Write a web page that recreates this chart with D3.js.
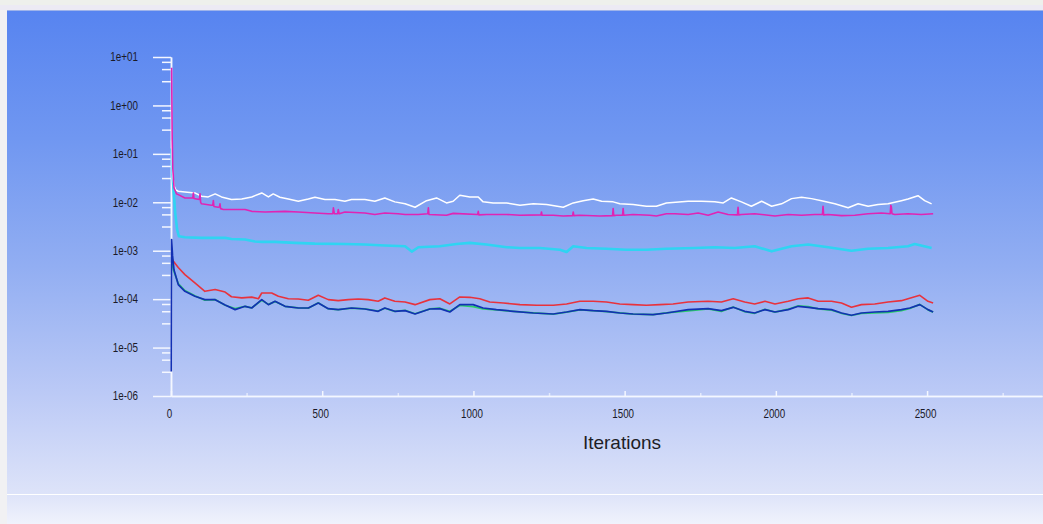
<!DOCTYPE html>
<html>
<head>
<meta charset="utf-8">
<script src="https://cdn.jsdelivr.net/npm/d3@7"></script>
<style>
  html, body { margin: 0; padding: 0; background: #f1f1f3; }
  svg { display: block; }
  text { font-family: "Liberation Sans", Arial, sans-serif; }
</style>
</head>
<body>
<svg id="chart" width="1043" height="524"></svg>
<script>
// Scaled residual history: [iteration, residual] pairs per equation
const continuity = [[2,0.19],[5,0.04],[10,0.022],[16,0.018],[24,0.0169],[46,0.0164],[79,0.0156],[101,0.0133],[123,0.0129],[146,0.0149],[167,0.0129],[200,0.0114],[234,0.0117],[267,0.0129],[300,0.0156],[322,0.0129],[338,0.0149],[360,0.0127],[388,0.0117],[421,0.0105],[454,0.0117],[476,0.0127],[509,0.0114],[542,0.0114],[575,0.0105],[597,0.0114],[641,0.0114],[674,0.0105],[707,0.0123],[740,0.0102],[774,0.0093],[807,0.0079],[845,0.0108],[878,0.0123],[911,0.0097],[933,0.0105],[955,0.0140],[988,0.0129],[1016,0.0129],[1032,0.0102],[1065,0.0097],[1110,0.0097],[1154,0.0087],[1198,0.0093],[1242,0.0090],[1297,0.0079],[1330,0.0097],[1363,0.0108],[1396,0.0117],[1424,0.0105],[1462,0.0102],[1484,0.0093],[1528,0.0090],[1572,0.0083],[1605,0.0083],[1638,0.0097],[1710,0.0105],[1754,0.0105],[1798,0.0102],[1826,0.0097],[1853,0.0123],[1886,0.0102],[1919,0.0083],[1953,0.0105],[1986,0.0083],[2019,0.0093],[2052,0.0119],[2085,0.0127],[2118,0.0119],[2151,0.0108],[2195,0.0093],[2239,0.0077],[2272,0.0093],[2305,0.0083],[2338,0.0090],[2371,0.0093],[2415,0.0108],[2437,0.0117],[2470,0.0137],[2492,0.0108],[2515,0.0093]];

const epsilon = [[2,6.0],[4,0.2],[6,0.05],[10,0.02],[18,0.0150],[24,0.0144],[46,0.0123],[72,0.0123],[74,0.0156],[76,0.0120],[94,0.0114],[96,0.0149],[98,0.0100],[101,0.0093],[134,0.0087],[138,0.0087],[140,0.0108],[142,0.0082],[156,0.0079],[160,0.0080],[162,0.0093],[164,0.0074],[173,0.0071],[200,0.0071],[245,0.0071],[267,0.0065],[311,0.0063],[377,0.0065],[421,0.0063],[476,0.0060],[520,0.0058],[535,0.0058],[537,0.0077],[540,0.0058],[551,0.0058],[553,0.0071],[556,0.0058],[575,0.0063],[641,0.0060],[674,0.0056],[707,0.0060],[751,0.0058],[774,0.0056],[818,0.0056],[849,0.0058],[851,0.0077],[853,0.0056],[911,0.0054],[933,0.0059],[1014,0.0056],[1016,0.0065],[1018,0.0055],[1043,0.0056],[1110,0.0056],[1154,0.0054],[1223,0.0055],[1225,0.0063],[1227,0.0054],[1264,0.0054],[1297,0.0052],[1328,0.0053],[1330,0.0063],[1332,0.0053],[1352,0.0054],[1418,0.0052],[1460,0.0053],[1462,0.0074],[1464,0.0053],[1473,0.0054],[1493,0.0054],[1495,0.0074],[1497,0.0054],[1528,0.0056],[1583,0.0054],[1605,0.0052],[1638,0.0058],[1666,0.0058],[1710,0.0056],[1743,0.0060],[1776,0.0054],[1809,0.0063],[1842,0.0056],[1873,0.0055],[1875,0.0079],[1877,0.0055],[1886,0.0056],[1930,0.0058],[1975,0.0054],[1997,0.0052],[2041,0.0056],[2085,0.0054],[2129,0.0056],[2154,0.0056],[2156,0.0083],[2158,0.0055],[2173,0.0056],[2217,0.0053],[2261,0.0054],[2305,0.0058],[2349,0.0060],[2378,0.0058],[2380,0.0087],[2382,0.0080],[2384,0.0058],[2393,0.0056],[2437,0.0058],[2481,0.0056],[2520,0.0058]];

const kResidual = [[2,0.13],[4,0.05],[8,0.02],[14,0.006],[20,0.0028],[26,0.00199],[46,0.0019],[101,0.00184],[179,0.00184],[200,0.00175],[245,0.00170],[278,0.00155],[300,0.00152],[344,0.00152],[410,0.00145],[476,0.00140],[575,0.00138],[641,0.00134],[707,0.00128],[774,0.00124],[796,0.00096],[818,0.00118],[889,0.00124],[944,0.00138],[988,0.00145],[1043,0.00134],[1110,0.00118],[1154,0.00114],[1220,0.00114],[1286,0.00105],[1308,0.00094],[1330,0.00124],[1374,0.00114],[1440,0.00110],[1506,0.00105],[1572,0.00105],[1638,0.00110],[1732,0.00114],[1798,0.00118],[1864,0.00114],[1930,0.00124],[1986,0.00097],[2052,0.00124],[2107,0.00134],[2173,0.00118],[2250,0.00100],[2305,0.00110],[2371,0.00114],[2437,0.00124],[2459,0.00138],[2515,0.00114]];

const xVelocity = [[3,6.8e-4],[8,6.05e-4],[24,4.5e-4],[46,3.21e-4],[79,2.16e-4],[112,1.45e-4],[146,1.58e-4],[179,1.40e-4],[200,1.12e-4],[234,1.06e-4],[267,1.10e-4],[289,1.02e-4],[300,1.34e-4],[333,1.34e-4],[355,1.15e-4],[388,1.02e-4],[421,1.01e-4],[454,9.46e-5],[487,1.20e-4],[520,9.77e-5],[553,9.31e-5],[586,9.77e-5],[619,1.01e-4],[652,9.77e-5],[685,9.02e-5],[707,1.06e-4],[740,9.02e-5],[774,8.73e-5],[807,7.70e-5],[856,9.77e-5],[889,1.02e-4],[922,7.95e-5],[955,1.11e-4],[988,1.09e-4],[1021,1.02e-4],[1054,8.73e-5],[1099,8.33e-5],[1154,7.70e-5],[1209,7.46e-5],[1264,7.46e-5],[1308,7.95e-5],[1352,9.02e-5],[1396,9.02e-5],[1440,8.73e-5],[1484,7.95e-5],[1528,7.70e-5],[1572,7.46e-5],[1616,7.70e-5],[1660,7.95e-5],[1710,8.73e-5],[1776,9.02e-5],[1820,8.73e-5],[1859,1.02e-4],[1897,8.73e-5],[1930,7.95e-5],[1964,9.02e-5],[1997,7.95e-5],[2041,9.02e-5],[2074,1.02e-4],[2107,1.06e-4],[2140,9.02e-5],[2184,9.02e-5],[2217,8.33e-5],[2250,6.78e-5],[2283,7.70e-5],[2327,7.95e-5],[2371,8.73e-5],[2415,9.31e-5],[2437,1.02e-4],[2476,1.20e-4],[2503,9.02e-5],[2520,8.33e-5]];

const yVelocity = [[3,5.5e-4],[8,4.0e-4],[24,2.1e-4],[46,1.5e-4],[79,1.18e-4],[112,9.5e-5],[146,9.8e-5],[179,7.5e-5],[212,6.4e-5],[245,7.1e-5],[267,6.6e-5],[300,9.5e-5],[322,7.8e-5],[344,8.9e-5],[377,7.1e-5],[421,6.6e-5],[454,6.5e-5],[487,8.4e-5],[520,6.3e-5],[553,6.1e-5],[597,6.5e-5],[641,6.3e-5],[685,5.7e-5],[707,6.5e-5],[740,5.6e-5],[774,5.9e-5],[807,5.0e-5],[856,6.3e-5],[889,6.5e-5],[922,5.6e-5],[955,7.4e-5],[999,7.0e-5],[1032,6.3e-5],[1076,6.0e-5],[1132,5.6e-5],[1198,5.2e-5],[1264,4.9e-5],[1308,5.4e-5],[1352,6.0e-5],[1396,5.8e-5],[1440,5.5e-5],[1484,5.2e-5],[1528,4.9e-5],[1594,4.8e-5],[1638,5.2e-5],[1710,5.7e-5],[1776,6.3e-5],[1820,5.6e-5],[1859,6.9e-5],[1897,5.5e-5],[1930,5.1e-5],[1964,6.2e-5],[1997,5.4e-5],[2041,6.2e-5],[2074,7.3e-5],[2107,7.0e-5],[2140,6.3e-5],[2184,5.9e-5],[2217,5.1e-5],[2250,4.6e-5],[2283,5.1e-5],[2327,5.2e-5],[2371,5.3e-5],[2415,5.8e-5],[2443,6.4e-5],[2476,7.8e-5],[2503,6.0e-5],[2520,5.4e-5]];

const zVelocity = [[1,3.2e-6],[2,1.7e-3],[5,8.0e-4],[10,4.0e-4],[24,2.0e-4],[46,1.45e-4],[79,1.15e-4],[112,9.77e-5],[146,9.77e-5],[179,7.6e-5],[212,6.07e-5],[245,7.11e-5],[267,6.56e-5],[300,9.77e-5],[322,7.70e-5],[344,9.02e-5],[377,7.11e-5],[421,6.56e-5],[454,6.56e-5],[487,8.33e-5],[520,6.36e-5],[553,6.07e-5],[597,6.56e-5],[641,6.26e-5],[685,5.61e-5],[707,6.56e-5],[740,5.61e-5],[774,5.78e-5],[807,4.94e-5],[856,6.26e-5],[889,6.36e-5],[922,5.43e-5],[955,7.70e-5],[999,7.70e-5],[1032,6.56e-5],[1076,6.07e-5],[1132,5.61e-5],[1198,5.18e-5],[1264,4.94e-5],[1308,5.43e-5],[1352,6.07e-5],[1396,5.78e-5],[1440,5.61e-5],[1484,5.18e-5],[1528,4.94e-5],[1594,4.79e-5],[1638,5.18e-5],[1710,6.07e-5],[1776,6.36e-5],[1820,5.78e-5],[1859,6.78e-5],[1897,5.61e-5],[1930,5.18e-5],[1964,6.07e-5],[1997,5.43e-5],[2041,6.07e-5],[2074,7.11e-5],[2107,6.78e-5],[2140,6.36e-5],[2184,6.07e-5],[2217,5.18e-5],[2250,4.64e-5],[2283,5.18e-5],[2327,5.43e-5],[2371,5.61e-5],[2415,6.07e-5],[2443,6.56e-5],[2476,7.70e-5],[2503,6.07e-5],[2520,5.43e-5]];

// Axis ticks and labels
const xTicks = [0, 500, 1000, 1500, 2000, 2500];
const xMinorTicks = [250, 750, 1250, 1750, 2250, 2750];
const yTicks = [1e1, 1e0, 1e-1, 1e-2, 1e-3, 1e-4, 1e-5, 1e-6];
const yTickLabels = ["1e+01", "1e+00", "1e-01", "1e-02", "1e-03", "1e-04", "1e-05", "1e-06"];
const xTitle = "Iterations";

const svg = d3.select("#chart");
const W = 1043, H = 524;

// Background panel with vertical blue-to-white gradient
const defs = svg.append("defs");
const grad = defs.append("linearGradient")
  .attr("id", "bg").attr("gradientUnits", "userSpaceOnUse")
  .attr("x1", 0).attr("y1", 10).attr("x2", 0).attr("y2", H);
[[0, "#5784f0"], [0.25, "#7097f1"], [0.5, "#92aef2"], [0.75, "#bccaf6"], [0.94, "#dde3f9"], [1, "#f0f2fc"]]
  .forEach(([o, c]) => grad.append("stop").attr("offset", o).attr("stop-color", c));

svg.append("rect").attr("width", W).attr("height", 5).attr("fill", "#eef0ec");
svg.append("rect").attr("y", 5).attr("width", W).attr("height", 5).attr("fill", "#eceaf4");
svg.append("rect").attr("x", 7).attr("y", 10).attr("width", W - 7).attr("height", H - 10).attr("fill", "url(#bg)");
svg.append("line").attr("x1", 7).attr("x2", W).attr("y1", 10.5).attr("y2", 10.5)
  .attr("stroke", "#9fb4ea").attr("stroke-width", 1);
svg.append("line").attr("x1", 7).attr("x2", W).attr("y1", 494.5).attr("y2", 494.5)
  .attr("stroke", "#ffffff").attr("stroke-width", 1.2);

// Scales
const x = d3.scaleLinear().domain([0, 2880]).range([171, 1042]);
const y = d3.scaleLog().domain([1e-6, 10]).range([396, 57]);

// Minor y ticks at fixed fractions of each decade
const yMinor = [];
yTicks.slice(0, -1).forEach(v => [0.1, 0.25, 0.5].forEach(f => yMinor.push(v * Math.pow(10, -f))));

const axisColor = "#f4f7ff";
const labelColor = "#1a1a28";
const squeeze = 0.82; // narrow tick-label face

const gyMinor = svg.append("g").attr("transform", "translate(171,0)")
  .call(d3.axisLeft(y).tickValues(yMinor).tickSize(9).tickSizeOuter(0).tickFormat(""));
const gy = svg.append("g").attr("transform", "translate(171,0)")
  .call(d3.axisLeft(y).tickValues(yTicks).tickSize(18).tickSizeOuter(0).tickPadding(15)
    .tickFormat((d, i) => yTickLabels[i]));

const gxMinor = svg.append("g").attr("transform", "translate(0,396)")
  .call(d3.axisBottom(x).tickValues(xMinorTicks).tickSize(-3).tickSizeOuter(0).tickFormat(""));
const gx = svg.append("g").attr("transform", "translate(0,396)")
  .call(d3.axisBottom(x).tickValues(xTicks).tickSize(-5).tickSizeOuter(0).tickPadding(13)
    .tickFormat(d3.format("d")));

[gy, gyMinor, gx, gxMinor].forEach(g => {
  g.selectAll("path.domain").attr("stroke", axisColor).attr("stroke-width", 1.5);
  g.selectAll(".tick line").attr("stroke", axisColor).attr("stroke-width", 1.5);
  g.selectAll(".tick text").attr("fill", labelColor).attr("font-size", 12)
    .attr("font-family", "'Liberation Sans', Arial, sans-serif");
});
gy.selectAll(".tick text")
  .attr("x", -33 / squeeze)
  .attr("transform", `scale(${squeeze},1)`);
gx.selectAll(".tick text")
  .attr("x", -2 / squeeze)
  .attr("transform", `scale(${squeeze},1)`);
gxMinor.selectAll(".tick line").attr("stroke-opacity", 0.7);

svg.append("text")
  .attr("x", 622).attr("y", 449)
  .attr("text-anchor", "middle")
  .attr("font-size", 19)
  .attr("fill", "#1e1e26")
  .text(xTitle);

// Residual curves
const line = d3.line().x(d => x(d[0])).y(d => y(d[1]));
const series = [
  { data: kResidual, color: "#2fd4f2", width: 2.6 },
  { data: continuity, color: "#ffffff", width: 1.5 },
  { data: epsilon, color: "#e024b4", width: 1.6 },
  { data: xVelocity, color: "#e8323c", width: 1.6 },
  { data: yVelocity, color: "#2ccf6a", width: 1.7 },
  { data: zVelocity, color: "#1230b4", width: 1.7 }
];
svg.append("g").selectAll("path")
  .data(series).join("path")
  .attr("d", s => line(s.data))
  .attr("fill", "none")
  .attr("stroke", s => s.color)
  .attr("stroke-width", s => s.width)
  .attr("stroke-linejoin", "round");
</script>
</body>
</html>
